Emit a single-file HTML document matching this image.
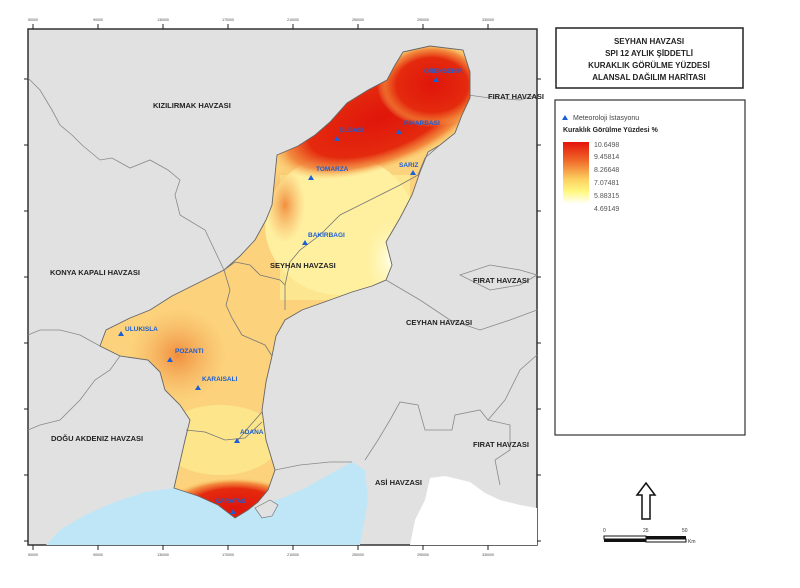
<!DOCTYPE html>
<html><head><meta charset="utf-8"><style>
body{margin:0;background:#fff;width:800px;height:588px;overflow:hidden;font-family:"Liberation Sans",sans-serif}
svg{position:absolute;left:0;top:0}
</style></head><body>
<svg width="800" height="588" viewBox="0 0 800 588" font-family="Liberation Sans, sans-serif">
<defs>
<clipPath id="bc"><path id="basinp" d="M403,52 L430,46 L463,50 L470,72 L470,98 L462,115 L455,133 L440,145 L428,152 L420,172 L412,195 L400,218 L386,242 L392,265 L386,280 L372,286 L352,292 L330,300 L302,310 L285,320 L276,336 L272,356 L266,382 L262,410 L266,440 L275,470 L268,490 L258,502 L248,510 L235,518 L218,505 L198,496 L174,488 L180,462 L185,440 L190,420 L180,405 L165,390 L160,372 L148,360 L120,356 L100,346 L106,330 L130,318 L150,310 L172,296 L200,282 L224,270 L240,256 L255,240 L266,220 L272,205 L277,155 L298,146 L315,135 L330,122 L347,103 L368,90 L387,80 L395,65 Z"/></clipPath>
<radialGradient id="r1" cx="0.5" cy="0.5" r="0.5"><stop offset="0" stop-color="#e0150a"/><stop offset="0.65" stop-color="#e42a0e"/><stop offset="0.85" stop-color="#f0782f" stop-opacity="0.8"/><stop offset="1" stop-color="#f7c060" stop-opacity="0"/></radialGradient>
<radialGradient id="r2" cx="0.5" cy="0.5" r="0.5"><stop offset="0" stop-color="#f08a3a" stop-opacity="0.95"/><stop offset="1" stop-color="#f5b060" stop-opacity="0"/></radialGradient>
<radialGradient id="r3" cx="0.5" cy="0.5" r="0.5"><stop offset="0" stop-color="#ffffe8"/><stop offset="1" stop-color="#fff7b0" stop-opacity="0"/></radialGradient>
</defs>
<rect x="28" y="29" width="509" height="516" fill="#e1e1e1" stroke="#333" stroke-width="1.5"/>
<path d="M430,478 L445,476 L470,482 L485,493 L500,500 L520,505 L537,508 L537,545 L410,545 L415,520 L425,500 Z" fill="#fff"/>
<path d="M46,545 L60,530 L85,515 L115,502 L145,492 L174,488 L198,496 L218,505 L235,518 L248,510 L262,505 L285,497 L305,488 L330,474 L352,462 L365,470 L368,500 L360,545 Z" fill="#bfe6f7"/>
<path d="M255,508 L270,500 L278,505 L272,516 L262,518 Z" fill="#e1e1e1" stroke="#777" stroke-width="0.7"/>
<g fill="none" stroke="#8a8a8a" stroke-width="0.8">
<path d="M28,78 L40,90 L52,110 L60,125 L72,135 L82,145 L100,160 L112,158 L130,168 L150,160 L168,170 L180,180 L175,195 L180,215 L205,230 L224,270"/>
<path d="M28,335 L40,330 L60,330 L80,335 L100,346"/>
<path d="M120,356 L110,370 L95,380 L80,400 L60,420 L40,425 L28,430"/>
<path d="M468,95 L490,98 L520,100 L537,95"/>
<path d="M386,280 L420,300 L450,320 L480,330 L510,320 L537,310"/>
<path d="M460,275 L490,265 L520,270 L537,275 L520,285 L490,290 Z"/>
<path d="M537,355 L520,370 L505,400 L488,420 L480,410 L455,415 L452,430 L425,430 L418,405 L400,402 L390,420 L378,440 L365,460"/>
<path d="M488,420 L510,425 L510,450 L495,460 L500,485"/>
<path d="M275,470 L300,465 L330,462 L352,462"/>
</g>
<g clip-path="url(#bc)">
<rect x="90" y="40" width="400" height="490" fill="#fcd37c"/>
<rect x="280" y="175" width="130" height="125" fill="#fde690"/>
<ellipse cx="340" cy="225" rx="75" ry="70" fill="#fff0a0"/>
<ellipse cx="390" cy="260" rx="25" ry="40" fill="url(#r3)"/>
<ellipse cx="220" cy="440" rx="60" ry="35" fill="#fde58c"/>
<ellipse cx="400" cy="60" rx="30" ry="20" fill="#fbd27a"/>
<ellipse cx="380" cy="118" rx="115" ry="50" fill="url(#r1)" transform="rotate(-20 380 118)"/>
<ellipse cx="432" cy="85" rx="55" ry="42" fill="url(#r1)"/>
<ellipse cx="285" cy="205" rx="20" ry="38" fill="url(#r2)"/>
<ellipse cx="178" cy="355" rx="50" ry="48" fill="url(#r2)"/>
<ellipse cx="235" cy="508" rx="70" ry="30" fill="url(#r1)"/>
</g>
<use href="#basinp" fill="none" stroke="#666" stroke-width="0.9"/>
<g fill="none" stroke="#777" stroke-width="0.8">
<path d="M440,145 L425,158 L418,175 L400,185 L380,195 L360,205 L340,215 L320,235 L300,250 L290,262 L285,285 L285,310"/>
<path d="M224,270 L235,262 L250,265 L260,275 L280,280 L285,285"/>
<path d="M224,270 L230,290 L226,305 L232,318 L242,335 L265,345 L272,356"/>
<path d="M186,430 L205,432 L225,440 L245,438 L262,422"/>
<path d="M238,440 L248,428 L262,412"/>
</g>
<g stroke="#222" stroke-width="1">
<path d="M33,29v-5M98,29v-5M163,29v-5M228,29v-5M293,29v-5M358,29v-5M423,29v-5M488,29v-5"/>
<path d="M33,545v5M98,545v5M163,545v5M228,545v5M293,545v5M358,545v5M423,545v5M488,545v5"/>
<path d="M28,79h-4M28,145h-4M28,211h-4M28,277h-4M28,343h-4M28,409h-4M28,475h-4M28,541h-4"/>
<path d="M537,79h4M537,145h4M537,211h4M537,277h4M537,343h4M537,409h4M537,475h4M537,541h4"/>
</g>
<g font-size="3.5" fill="#444" text-anchor="middle">
<text x="33" y="21">50000</text><text x="98" y="21">90000</text><text x="163" y="21">130000</text><text x="228" y="21">170000</text><text x="293" y="21">210000</text><text x="358" y="21">250000</text><text x="423" y="21">290000</text><text x="488" y="21">330000</text>
<text x="33" y="556">50000</text><text x="98" y="556">90000</text><text x="163" y="556">130000</text><text x="228" y="556">170000</text><text x="293" y="556">210000</text><text x="358" y="556">250000</text><text x="423" y="556">290000</text><text x="488" y="556">330000</text>
</g>
<g font-size="7.5" font-weight="bold" fill="#222">
<text x="153" y="108">KIZILIRMAK HAVZASI</text>
<text x="488" y="99">FIRAT HAVZASI</text>
<text x="50" y="275">KONYA KAPALI HAVZASI</text>
<text x="270" y="268">SEYHAN HAVZASI</text>
<text x="473" y="283">FIRAT HAVZASI</text>
<text x="406" y="325">CEYHAN HAVZASI</text>
<text x="473" y="447">FIRAT HAVZASI</text>
<text x="51" y="441">DOĞU AKDENIZ HAVZASI</text>
<text x="375" y="485">ASİ HAVZASI</text>
</g>
<g fill="#1a5fd6" font-size="6.5" font-weight="bold">
<path d="M436,77l3,5h-6z"/><text x="424" y="73">ORENSEHIR</text>
<path d="M399,129l3,5h-6z"/><text x="404" y="125">PINARBASI</text>
<path d="M337,136l3,5h-6z"/><text x="340" y="132">ELBASI</text>
<path d="M311,175l3,5h-6z"/><text x="316" y="171">TOMARZA</text>
<path d="M413,170l3,5h-6z"/><text x="399" y="167">SARIZ</text>
<path d="M305,240l3,5h-6z"/><text x="308" y="237">BAKIRBAGI</text>
<path d="M121,331l3,5h-6z"/><text x="125" y="331">ULUKISLA</text>
<path d="M170,357l3,5h-6z"/><text x="175" y="353">POZANTI</text>
<path d="M198,385l3,5h-6z"/><text x="202" y="381">KARAISALI</text>
<path d="M237,438l3,5h-6z"/><text x="240" y="434">ADANA</text>
<path d="M233,509l3,5h-6z"/><text x="215" y="503">KARATAS</text>
</g>
<rect x="556" y="28" width="187" height="60" fill="#fff" stroke="#222" stroke-width="1.5"/>
<g font-size="8" font-weight="bold" text-anchor="middle" fill="#222">
<text x="649" y="44">SEYHAN HAVZASI</text>
<text x="649" y="56">SPI 12 AYLIK ŞİDDETLİ</text>
<text x="649" y="68">KURAKLIK GÖRÜLME YÜZDESİ</text>
<text x="649" y="80">ALANSAL DAĞILIM HARİTASI</text>
</g>
<rect x="555" y="100" width="190" height="335" fill="#fff" stroke="#333" stroke-width="1.2"/>
<path d="M565,115l3,5h-6z" fill="#1a5fd6"/>
<text x="573" y="120" font-size="7" fill="#444">Meteoroloji İstasyonu</text>
<text x="563" y="132" font-size="7" font-weight="bold" fill="#222">Kuraklık Görülme Yüzdesi %</text>
<defs><linearGradient id="lg" x1="0" y1="0" x2="0" y2="1"><stop offset="0" stop-color="#e3140b"/><stop offset="0.3" stop-color="#f0692a"/><stop offset="0.6" stop-color="#fdd060"/><stop offset="0.8" stop-color="#fff880"/><stop offset="1" stop-color="#ffffff"/></linearGradient></defs>
<rect x="563" y="142" width="26" height="62" fill="url(#lg)"/>
<g font-size="7" fill="#555">
<text x="594" y="147">10.6498</text><text x="594" y="159">9.45814</text><text x="594" y="172">8.26648</text><text x="594" y="185">7.07481</text><text x="594" y="198">5.88315</text><text x="594" y="211">4.69149</text>
</g>
<path d="M646,483 L655,495 L650,495 L650,519 L642,519 L642,495 L637,495 Z" fill="#fff" stroke="#111" stroke-width="1.5"/>
<rect x="604" y="536" width="42" height="3" fill="#fff" stroke="#111" stroke-width="1"/>
<rect x="604" y="539" width="42" height="3" fill="#111"/>
<rect x="646" y="536" width="40" height="3" fill="#111"/>
<rect x="646" y="539" width="40" height="3" fill="#fff" stroke="#111" stroke-width="1"/>
<g font-size="5" fill="#333"><text x="603" y="532">0</text><text x="643" y="532">25</text><text x="682" y="532">50</text><text x="688" y="543">Km</text></g>
</svg>
</body></html>
